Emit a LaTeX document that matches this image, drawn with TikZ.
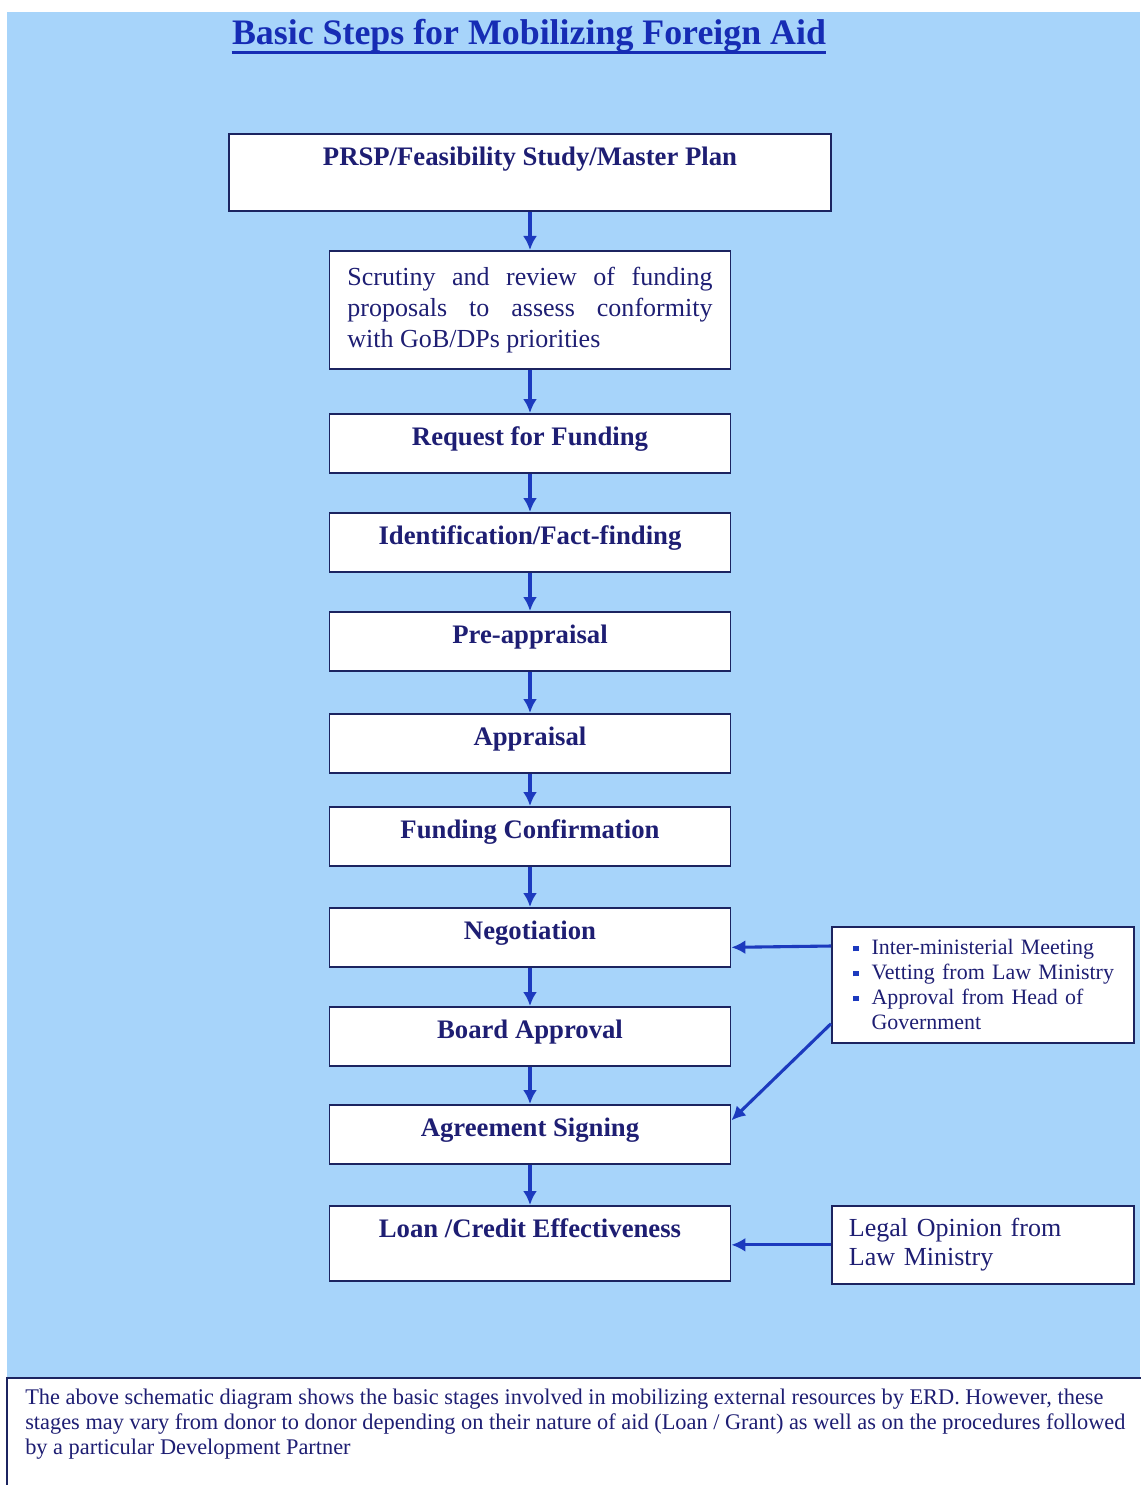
\documentclass[tikz,border=0pt]{standalone}
\usepackage{fontspec}
\setmainfont{Liberation Serif}
\usetikzlibrary{arrows.meta,positioning}

\definecolor{skyfill}{RGB}{167,212,250}
\definecolor{boxrim}{RGB}{28,36,96}
\definecolor{inkblue}{RGB}{30,30,115}
\definecolor{arrowblue}{RGB}{28,58,190}
\definecolor{titleblue}{RGB}{22,44,180}

\newcommand{\sqitem}{\hspace*{0.275cm}\makebox[0.85em][l]{\textcolor{arrowblue}{\rule[0.35ex]{0.26em}{0.26em}}}}

\tikzset{
  boxbase/.style={draw=boxrim, line width=1.2pt, fill=white, text=inkblue},
  stepbox/.style={boxbase, anchor=north, minimum width=10.025cm,
    inner xsep=2pt, inner ysep=0pt, text height=0.8cm, text depth=0.675cm,
    font=\bfseries\fontsize{19}{22}\selectfont},
  notebox/.style={boxbase, anchor=north west, align=left},
  flow/.style={draw=arrowblue, line width=2.2pt, -{Latex[length=0.35cm,width=0.35cm]}}
}

\begin{document}
\begin{tikzpicture}[x=0.025cm, y=-0.025cm]
\useasboundingbox (0,0) rectangle (1140,1485);
\fill[white] (0,0) rectangle (1140,1485);
\fill[skyfill] (7,12) rectangle (1140,1378);

% title
\node[font=\bfseries\fontsize{25.5}{30}\selectfont, text=titleblue, inner xsep=0pt] (title) at (529,36)
  {Basic Steps for Mobilizing Foreign Aid};
\draw[titleblue, line width=2.4pt] ([yshift=-0.2cm]title.base west) -- ([yshift=-0.2cm]title.base east);

% main steps
\node[stepbox, minimum width=15.05cm, text depth=1.125cm] (prsp) at (530,133) {PRSP/Feasibility Study/Master Plan};
\node[boxbase, anchor=north, font=\fontsize{18.5}{22}\selectfont, text width=9.125cm,
  inner xsep=0.45cm, minimum height=2.95cm, align=justify] (scrutiny) at (530,250)
  {Scrutiny and review of funding\linebreak proposals to assess conformity\linebreak with GoB/DPs priorities};
\node[stepbox] (request) at (530,413) {Request for Funding};
\node[stepbox] (identify) at (530,512) {Identification/Fact-finding};
\node[stepbox] (preappr) at (530,611) {Pre-appraisal};
\node[stepbox] (appr) at (530,713) {Appraisal};
\node[stepbox] (confirm) at (530,806) {Funding Confirmation};
\node[stepbox] (negot) at (530,907) {Negotiation};
\node[stepbox] (board) at (530,1006) {Board Approval};
\node[stepbox] (agree) at (530,1104) {Agreement Signing};
\node[stepbox, text depth=1.075cm] (loan) at (530,1205) {Loan /Credit Effectiveness};

% side notes
\node[notebox, text width=7.05cm, inner xsep=0.25cm, minimum height=2.9cm,
  font=\fontsize{15.6}{17.8}\selectfont] (vetting) at (831,926)
  {\sqitem Inter-ministerial Meeting\\ \sqitem Vetting from Law Ministry\\
   \sqitem Approval from Head of\\ \hspace*{0.275cm}\makebox[0.85em]{}Government};
\node[notebox, text width=6.7cm, inner xsep=0.425cm, minimum height=1.95cm,
  font=\fontsize{18.5}{21}\selectfont] (legal) at (831,1205)
  {Legal Opinion from\\ Law Ministry};

% arrows
\foreach \from/\to in {prsp/scrutiny, scrutiny/request, request/identify,
  identify/preappr, preappr/appr, appr/confirm, confirm/negot, negot/board,
  board/agree, agree/loan}
  \draw[flow] (\from.south) -- (\to.north);
\draw[flow] ([yshift=-0.5cm]vetting.north west) -- ([yshift=-0.25cm]negot.east);
\draw[flow] ([yshift=0.5cm]vetting.south west) -- ([yshift=0.35cm]agree.east);
\draw[flow] (legal.west) -- (legal.west -| loan.east);

% remark at the foot
\draw[boxrim, line width=1.2pt, fill=white] (7,1378) rectangle (1150,1495);
\node[anchor=north west, inner sep=0pt, align=left, text=inkblue,
  font=\fontsize{15.9}{17.8}\selectfont] (remark) at (25,1389)
  {The above schematic diagram shows the basic stages involved in mobilizing external resources by ERD. However, these\\
   stages may vary from donor to donor depending on their nature of aid (Loan / Grant) as well as on the procedures followed\\
   by a particular Development Partner};
\end{tikzpicture}
\end{document}
